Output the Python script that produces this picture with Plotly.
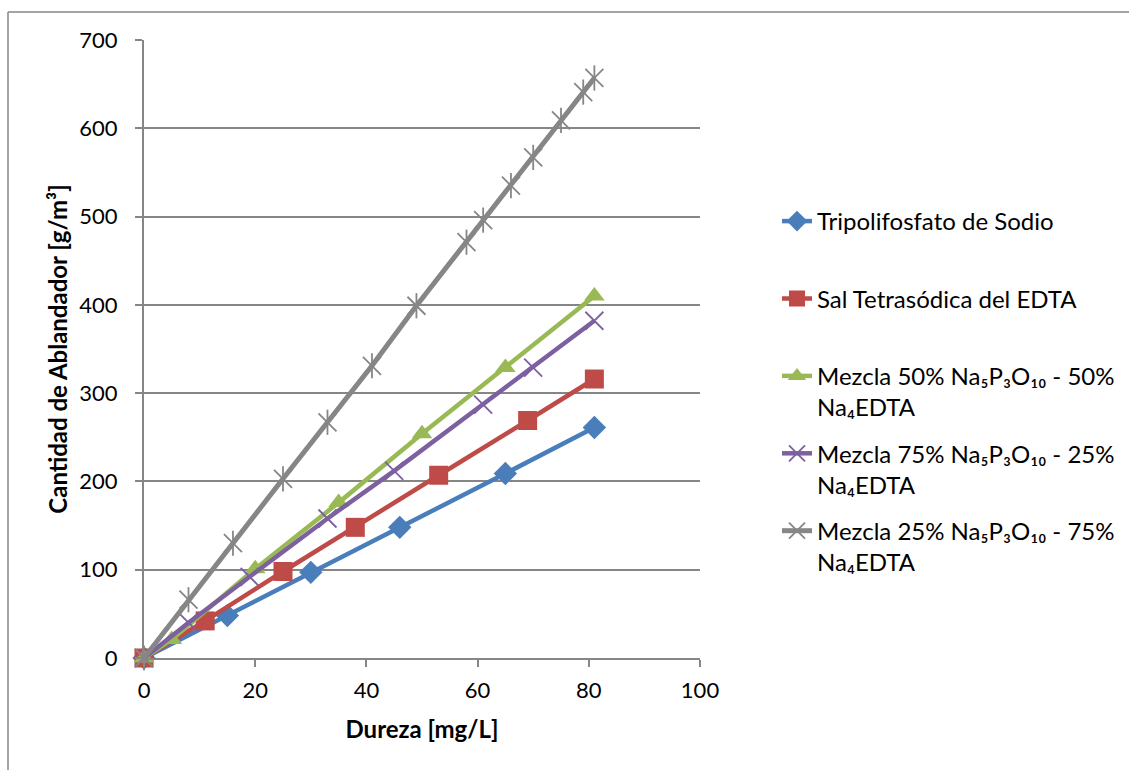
import plotly.graph_objects as go

# ---- data ----
x_tpf = [0, 15, 30, 46, 65, 81]
y_tpf = [0, 48, 97, 148, 209, 261]

x_edta = [0, 11, 25, 38, 53, 69, 81]
y_edta = [0, 42, 98, 148, 207, 269, 316]

x_m50 = [0, 5, 20, 35, 50, 65, 81]
y_m50 = [0, 21, 101, 176, 254, 329, 410]

x_m75 = [0, 8, 19, 33, 45, 61, 70, 81]
y_m75 = [0, 40, 92, 158, 212, 287, 329, 382]

x_m25 = [0, 8, 16, 25, 33, 41, 49, 58, 61, 66, 70, 75, 79, 81]
y_m25 = [0, 66, 130, 203, 267, 331, 399, 471, 496, 535, 567, 609, 641, 657]

names = [
    "Tripolifosfato de Sodio",
    "Sal Tetrasódica del EDTA",
    "Mezcla 50% Na₅P₃O₁₀ - 50%<br>Na₄EDTA",
    "Mezcla 75% Na₅P₃O₁₀ - 25%<br>Na₄EDTA",
    "Mezcla 25% Na₅P₃O₁₀ - 75%<br>Na₄EDTA",
]
colors = ["#4A7EBB", "#BE4B48", "#98B954", "#7D60A0", "#868686"]

x_ticks = [0, 20, 40, 60, 80, 100]
y_ticks = [0, 100, 200, 300, 400, 500, 600, 700]

FONT = "Lato"
W, H = 1129, 770
L, R, T, B = 144, 429, 40, 112
pw, ph = W - L - R, H - T - B


def px_x(p):
    return (p - L) / pw


def px_y(p):
    return (H - B - p) / ph


fig = go.Figure()

fig.add_trace(go.Scatter(
    x=x_tpf, y=y_tpf, name=names[0] + "<br> ", mode="lines+markers",
    line=dict(color=colors[0], width=4.5),
    marker=dict(symbol="diamond", size=18, color=colors[0]),
    cliponaxis=False, legendgroup="a"))
fig.add_trace(go.Scatter(
    x=x_edta, y=y_edta, name=names[1] + "<br> ", mode="lines+markers",
    line=dict(color=colors[1], width=4.5),
    marker=dict(symbol="square", size=19, color=colors[1]),
    cliponaxis=False, legendgroup="b"))
fig.add_trace(go.Scatter(
    x=x_m50, y=y_m50, name=names[2], mode="lines+markers",
    line=dict(color=colors[2], width=4.5),
    marker=dict(symbol="triangle-up", size=18, color=colors[2]),
    cliponaxis=False, legendgroup="c"))
fig.add_trace(go.Scatter(
    x=x_m75, y=y_m75, name=names[3], mode="lines+markers",
    line=dict(color=colors[3], width=4.5),
    marker=dict(symbol="x-thin-open", size=18, color=colors[3],
                line=dict(color=colors[3], width=1.8)),
    cliponaxis=False, legendgroup="d"))
fig.add_trace(go.Scatter(
    x=x_m25, y=y_m25, name=names[4], mode="lines+markers",
    line=dict(color=colors[4], width=5),
    marker=dict(symbol="x-thin-open", size=18, color=colors[4],
                line=dict(color=colors[4], width=1.8)),
    cliponaxis=False, legendgroup="e"))
fig.add_trace(go.Scatter(
    x=x_m25, y=y_m25, mode="markers", showlegend=False,
    marker=dict(symbol="line-ns-open", size=18, color=colors[4],
                line=dict(color=colors[4], width=1.8)),
    cliponaxis=False, legendgroup="e", hoverinfo="skip"))

axis_color = "#868686"
fig.update_layout(
    width=W, height=H,
    margin=dict(l=L, r=R, t=T, b=B, autoexpand=False),
    paper_bgcolor="white", plot_bgcolor="white",
    font=dict(family=FONT, size=22, color="black"),
    xaxis=dict(
        range=[0, 100], tickvals=x_ticks, ticktext=[str(v) for v in x_ticks],
        showgrid=False, zeroline=False, showline=True,
        linecolor=axis_color, linewidth=2, ticks="outside", ticklen=7,
        tickcolor=axis_color, tickwidth=2, ticklabelstandoff=5,
        tickfont=dict(family=FONT, size=22),
        title=dict(text="<b>Dureza [mg/L]</b>", standoff=19,
                   font=dict(family=FONT, size=24)),
    ),
    yaxis=dict(
        range=[0, 700], tickvals=y_ticks, ticktext=[str(v) for v in y_ticks],
        showgrid=True, gridcolor=axis_color, gridwidth=2,
        zeroline=False, showline=True,
        linecolor=axis_color, linewidth=2, ticks="outside", ticklen=7,
        tickcolor=axis_color, tickwidth=2, ticklabelstandoff=13,
        tickfont=dict(family=FONT, size=22),
        title=dict(text="<b>Cantidad de Ablandador [g/m³]</b>", standoff=5,
                   font=dict(family=FONT, size=24)),
    ),
    legend=dict(
        x=px_x(777), y=px_y(199), xanchor="left", yanchor="top",
        valign="top", font=dict(family=FONT, size=24),
        tracegroupgap=12, bgcolor="rgba(0,0,0,0)",
    ),
    shapes=[
        dict(type="line", xref="paper", yref="paper",
             x0=px_x(8), x1=px_x(8), y0=px_y(12), y1=px_y(775),
             line=dict(color="#868686", width=1.5)),
        dict(type="line", xref="paper", yref="paper",
             x0=px_x(8), x1=px_x(1135), y0=px_y(12), y1=px_y(12),
             line=dict(color="#868686", width=1.5)),
    ],
)

fig.write_html("out.html")
